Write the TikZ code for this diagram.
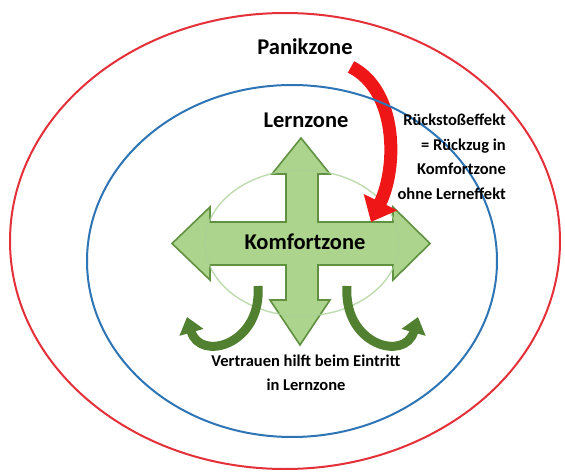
\documentclass[tikz,border=0pt]{standalone}
\usepackage{fontspec}
\setmainfont{Carlito}
\usetikzlibrary{arrows.meta}
\definecolor{zred}{RGB}{228,48,56}
\definecolor{zblue}{RGB}{46,117,182}
\definecolor{arrred}{RGB}{238,22,22}
\definecolor{crossfill}{RGB}{172,212,140}
\definecolor{crossdraw}{RGB}{96,145,64}
\definecolor{lightell}{RGB}{170,208,150}
\definecolor{darkgreen}{RGB}{80,128,48}
\tikzset{
  zonelabel/.style={font=\fontsize{22.5}{26}\selectfont\bfseries, text=black, inner sep=0pt},
  smalllabel/.style={font=\fontsize{16.5}{24.5}\selectfont\bfseries, text=black, inner sep=0pt},
  greenarrow/.style={draw=darkgreen, line width=9pt, -{Triangle[width=24pt,length=16pt]}},
  redarrow/.style={draw=arrred, line width=13pt, -{Triangle[width=36pt,length=22pt]}}
}
\begin{document}
\begin{tikzpicture}[x=1pt,y=-1pt]
\useasboundingbox (0,0) rectangle (565,473);
\fill[white] (0,0) rectangle (565,473);
% outer ellipse
\draw[zred, line width=2pt] (285,241) ellipse [x radius=275, y radius=228];
% cross
\filldraw[fill=crossfill, draw=crossdraw, line width=1.6pt, line join=miter]
  (301,138) -- (330,174) -- (318,174) -- (318,222) -- (393,222) -- (393,207)
  -- (430,243.5) -- (393,280) -- (393,265) -- (318,265) -- (318,300) -- (330,300)
  -- (300,345) -- (270,300) -- (286,300) -- (286,265) -- (210,265) -- (210,280)
  -- (172,243.5) -- (210,207) -- (210,222) -- (286,222) -- (286,174) -- (272,174) -- cycle;
% light comfort ellipse
\draw[lightell, line width=1.4pt, opacity=0.75] (302,243) ellipse [x radius=97, y radius=73];
% red arrow
\coordinate (rstart) at (351,67);
\coordinate (rend) at (371,222);
\draw[redarrow] (rstart) .. controls (397,90) and (398,166) .. (rend);
% blue ellipse
\draw[zblue, line width=2pt] (292,261) ellipse [x radius=205, y radius=176];
% green curved arrows
\coordinate (gl1) at (258,286);
\coordinate (gl2) at (187,317);
\coordinate (gr1) at (347,286);
\coordinate (gr2) at (418,317);
\draw[greenarrow] (gl1) .. controls (262,345) and (200,362) .. (gl2);
\draw[greenarrow] (gr1) .. controls (343,345) and (405,362) .. (gr2);
% labels
\node[zonelabel] (panik) at (305,47) {Panikzone};
\node[zonelabel] (lern) at (306,120) {Lernzone};
\node[zonelabel] (komfort) at (305,242) {Komfortzone};
\node[smalllabel, align=right, anchor=east] (rueck) at (506,157) {Rückstoßeffekt\\= Rückzug in\\Komfortzone\\ohne Lerneffekt};
\node[smalllabel, align=center] (vertrauen) at (306,373) {Vertrauen hilft beim Eintritt\\in Lernzone};
\end{tikzpicture}
\end{document}
